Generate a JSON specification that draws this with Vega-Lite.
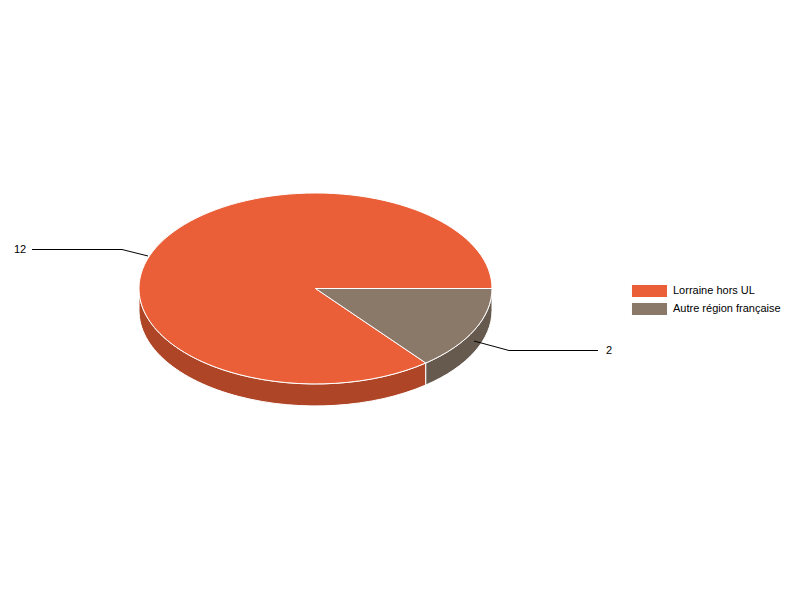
{
  "$schema": "https://vega.github.io/schema/vega-lite/v6.json",
  "width": 800,
  "height": 600,
  "padding": 0,
  "autosize": "none",
  "background": "#ffffff",
  "config": {"view": {"stroke": null}},
  "data": {
    "values": [
      {"origine": "Lorraine hors UL", "valeur": 12},
      {"origine": "Autre région française", "valeur": 2}
    ]
  },
  "layer": [
    {
      "mark": {"type": "point", "filled": true, "opacity": 1, "size": 4, "stroke": "#ffffff", "strokeWidth": 1},
      "encoding": {
        "shape": {
          "field": "origine",
          "type": "nominal",
          "legend": null,
          "scale": {
            "domain": ["Lorraine hors UL", "Autre région française"],
            "range": [
              "M-261,-11.5 A176.5,95.5 0 0 0 25.8,63 L25.8,85 A176.5,95.5 0 0 1 -261,10.5 Z",
              "M25.8,63 A176.5,95.5 0 0 0 92,-11.5 L92,10.5 A176.5,95.5 0 0 1 25.8,85 Z"
            ]
          }
        },
        "color": {
          "field": "origine",
          "type": "nominal",
          "legend": null,
          "scale": {
            "domain": ["Lorraine hors UL", "Autre région française"],
            "range": ["#ae4527", "#665a4f"]
          }
        }
      }
    },
    {
      "mark": {"type": "point", "filled": false, "opacity": 1, "size": 4, "stroke": "#000000", "strokeWidth": 1},
      "encoding": {
        "shape": {
          "field": "origine",
          "type": "nominal",
          "legend": null,
          "scale": {
            "domain": ["Lorraine hors UL", "Autre région française"],
            "range": [
              "M-252,-44 L-278,-50.5 L-368,-50.5",
              "M74,41 L109,50.5 L198,50.5"
            ]
          }
        }
      }
    },
    {
      "mark": {"type": "point", "filled": true, "opacity": 1, "size": 4, "stroke": "#ffffff", "strokeWidth": 1},
      "encoding": {
        "shape": {
          "field": "origine",
          "type": "nominal",
          "legend": null,
          "scale": {
            "domain": ["Lorraine hors UL", "Autre région française"],
            "range": [
              "M-84.5,-11.5 L92,-11.5 A176.5,95.5 0 0 0 -84.5,-107 A176.5,95.5 0 0 0 -261,-11.5 A176.5,95.5 0 0 0 25.8,63 Z",
              "M-84.5,-11.5 L92,-11.5 A176.5,95.5 0 0 1 25.8,63 Z"
            ]
          }
        },
        "color": {
          "field": "origine",
          "type": "nominal",
          "legend": null,
          "scale": {
            "domain": ["Lorraine hors UL", "Autre région française"],
            "range": ["#ea5f38", "#8a7869"]
          }
        }
      }
    },
    {
      "mark": {"type": "point", "filled": true, "opacity": 1, "size": 0, "strokeWidth": 0},
      "encoding": {
        "color": {
          "field": "origine",
          "type": "nominal",
          "scale": {
            "domain": ["Lorraine hors UL", "Autre région française"],
            "range": ["#ea5f38", "#8a7869"]
          },
          "legend": {
            "title": null,
            "orient": "none",
            "legendX": 643.5,
            "legendY": 285,
            "padding": 0,
            "symbolType": "M-2.92,-1 L2.92,-1 L2.92,1 L-2.92,1 Z",
            "symbolSize": 144,
            "symbolStrokeWidth": 0,
            "symbolOpacity": 1,
            "labelFont": "Liberation Sans",
            "labelFontSize": 11,
            "labelColor": "#000000",
            "labelOffset": 17.5,
            "rowPadding": 6
          }
        }
      }
    },
    {
      "mark": {"type": "text", "font": "Liberation Sans", "fontSize": 11, "color": "#000000", "align": "center", "baseline": "middle"},
      "encoding": {
        "x": {
          "field": "origine",
          "type": "nominal",
          "axis": null,
          "scale": {
            "type": "point",
            "padding": 0,
            "domain": ["Lorraine hors UL", "Autre région française"],
            "range": [20, 609]
          }
        },
        "y": {
          "field": "origine",
          "type": "nominal",
          "axis": null,
          "scale": {
            "type": "point",
            "padding": 0,
            "domain": ["Lorraine hors UL", "Autre région française"],
            "range": [249.5, 350.5]
          }
        },
        "text": {"field": "valeur", "type": "quantitative"}
      }
    }
  ],
  "resolve": {
    "scale": {"shape": "independent", "color": "independent"}
  }
}
